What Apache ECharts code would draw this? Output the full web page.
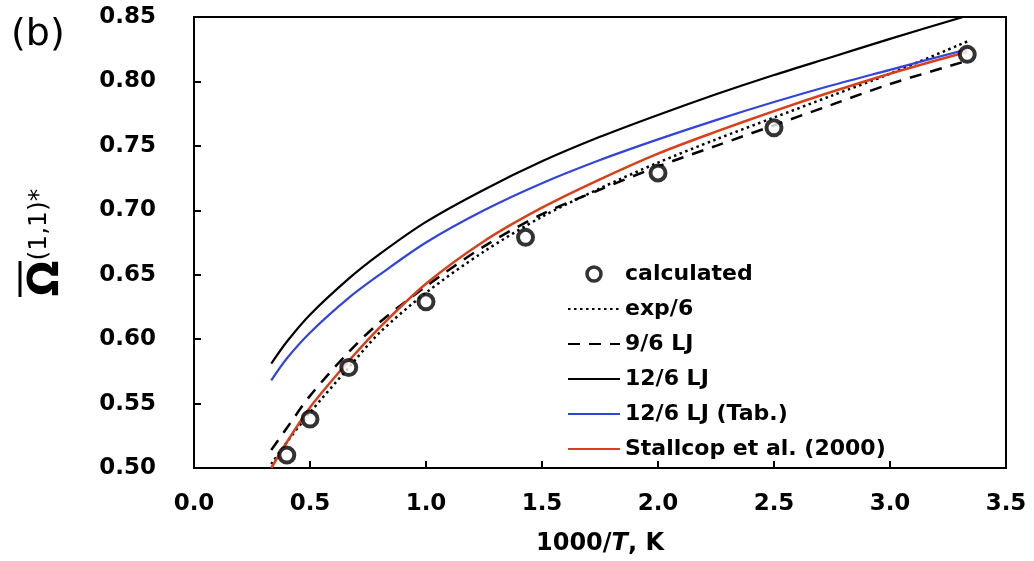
<!DOCTYPE html>
<html>
<head>
<meta charset="utf-8">
<script src="https://cdn.jsdelivr.net/npm/echarts@6/dist/echarts.min.js"></script>
<style>html,body{margin:0;padding:0;background:#fff;}#c{width:1034px;height:561px;}</style>
</head>
<body>
<div id="c"></div>
<script>
// Data
const calcX = [0.4, 0.5, 0.667, 1.0, 1.429, 2.0, 2.5, 3.333];
const calcY = [0.510, 0.538, 0.578, 0.629, 0.679, 0.729, 0.764, 0.821];
const curveX = [0.333, 0.4, 0.5, 0.667, 0.8, 1.0, 1.25, 1.5, 1.75, 2.0, 2.25, 2.5, 2.75, 3.0, 3.333];
const exp6   = [0.503, 0.520, 0.543, 0.578, 0.605, 0.636, 0.668, 0.695, 0.717, 0.737, 0.755, 0.772, 0.789, 0.806, 0.831];
const lj96   = [0.514, 0.531, 0.556, 0.590, 0.613, 0.641, 0.672, 0.697, 0.716, 0.734, 0.750, 0.766, 0.782, 0.798, 0.816];
const lj126  = [0.581, 0.598, 0.619, 0.647, 0.666, 0.691, 0.716, 0.738, 0.757, 0.774, 0.790, 0.805, 0.819, 0.833, 0.851];
const lj126T = [0.568, 0.585, 0.605, 0.632, 0.650, 0.675, 0.700, 0.721, 0.739, 0.755, 0.770, 0.784, 0.797, 0.809, 0.825];
const stall  = [0.500, 0.520, 0.547, 0.583, 0.609, 0.643, 0.676, 0.702, 0.724, 0.744, 0.761, 0.777, 0.792, 0.806, 0.823];
const names = ['calculated', 'exp/6', '9/6 LJ', '12/6 LJ', '12/6 LJ (Tab.)', 'Stallcop et al. (2000)'];

const FONT = 'DejaVu Sans';
const pairs = (xs, ys) => xs.map((x, i) => [x, ys[i]]);
const lineS = (name, ys, color, type, width) => ({
  name, type: 'line', data: pairs(curveX, ys), smooth: 0.3, symbol: 'none', showSymbol: false,
  lineStyle: { color, type, width }, itemStyle: { color }, z: 3
});

const chart = echarts.init(document.getElementById('c'), null, { renderer: 'canvas' });
chart.setOption({
  backgroundColor: '#fff',
  animation: false,
  grid: { left: 194, right: 28, top: 17, bottom: 88, show: true, borderColor: '#000', borderWidth: 2, backgroundColor: 'transparent' },
  xAxis: {
    type: 'value', min: 0, max: 3.5, interval: 0.5,
    axisLine: { show: true, lineStyle: { color: '#000', width: 2 } },
    axisTick: { show: true, inside: true, length: 7, lineStyle: { color: '#000', width: 2 } },
    splitLine: { show: false },
    axisLabel: { color: '#000', fontFamily: FONT, fontWeight: 'bold', fontSize: 23, margin: 25, formatter: v => v.toFixed(1) },
    name: '{a|1000/}{i|T}{a|, K}', nameLocation: 'middle', nameGap: 64,
    nameTextStyle: { rich: {
      a: { fontFamily: FONT, fontWeight: 'bold', fontSize: 24, color: '#000' },
      i: { fontFamily: FONT, fontWeight: 'bold', fontStyle: 'italic', fontSize: 24, color: '#000' }
    } }
  },
  yAxis: {
    type: 'value', min: 0.5, max: 0.85, interval: 0.05,
    axisLine: { show: true, lineStyle: { color: '#000', width: 2 } },
    axisTick: { show: true, inside: true, length: 7, lineStyle: { color: '#000', width: 2 } },
    splitLine: { show: false },
    axisLabel: { color: '#000', fontFamily: FONT, fontWeight: 'bold', fontSize: 23, margin: 38, formatter: v => v.toFixed(2) },
    name: '{o|\u03A9}{s|(1,1)*}', nameLocation: 'middle', nameGap: 126, nameRotate: 90,
    nameTextStyle: { rich: {
      o: { fontFamily: FONT, fontWeight: 'bold', fontSize: 42, color: '#000', verticalAlign: 'bottom' },
      s: { fontFamily: FONT, fontSize: 25, color: '#000', padding: [0, 0, 16, 0], verticalAlign: 'bottom' }
    } }
  },
  legend: {
    orient: 'vertical', left: 562, top: 258, itemWidth: 52, itemHeight: 14, itemGap: 13,
    data: [
      { name: names[0], itemStyle: { color: '#fff', borderColor: '#000', borderWidth: 3.5 } },
      { name: names[1], itemStyle: { opacity: 0 } },
      { name: names[2], itemStyle: { opacity: 0 } },
      { name: names[3], itemStyle: { opacity: 0 } },
      { name: names[4], itemStyle: { opacity: 0 } },
      { name: names[5], itemStyle: { opacity: 0 } }
    ],
    textStyle: { fontFamily: FONT, fontWeight: 'bold', fontSize: 22, color: '#000' }
  },
  graphic: [
    { type: 'text', left: 11, top: 16, style: { text: '(b)', font: '38px "DejaVu Sans"', fill: '#000' } },
    { type: 'line', shape: { x1: 20, y1: 261, x2: 20, y2: 297 }, style: { stroke: '#000', lineWidth: 3 } }
  ],
  series: [
    { name: names[0], type: 'scatter', data: pairs(calcX, calcY), symbol: 'circle', symbolSize: 15,
      itemStyle: { color: '#fff', borderColor: '#000', borderWidth: 4 }, z: 5 },
    lineS(names[1], exp6, '#000', [2.5, 3.5], 2.5),
    lineS(names[2], lj96, '#000', [12, 9], 2.5),
    lineS(names[3], lj126, '#000', 'solid', 2.2),
    lineS(names[4], lj126T, '#3344dd', 'solid', 2.2),
    lineS(names[5], stall, '#d8401c', 'solid', 2.5)
  ]
});
</script>
</body>
</html>
